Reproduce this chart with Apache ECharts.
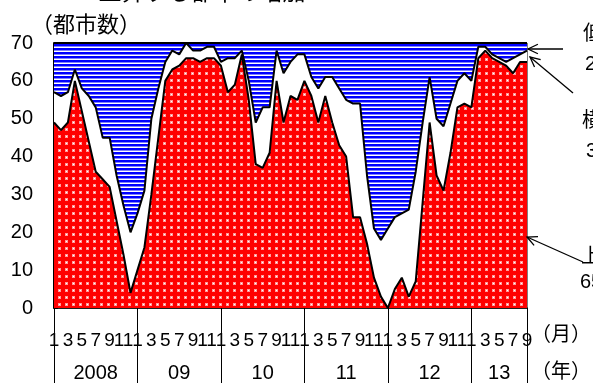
<!DOCTYPE html>
<html><head><meta charset="utf-8">
<script src="https://cdn.jsdelivr.net/npm/echarts@6/dist/echarts.min.js"></script>
<style>html,body{margin:0;padding:0;background:#fff}#c{width:593px;height:383px}</style>
</head><body><div id="c"></div>
<script>
// ---- data ----
const years = ['2008', '09', '10', '11', '12', '13'];
const monthsInYear = [12, 12, 12, 12, 12, 9];
// number of cities (of 70): rising / flat / falling, Jan 2008 .. Sep 2013
const rising = [49,47,49,60,52,44,36,34,32,23,14,4,
                10,16,30,45,60,63,64,66,66,65,66,66,
                64,57,59,67,55,38,37,41,60,49,56,55,
                60,56,49,56,49,43,40,24,24,17,8,3,
                0,5,8,3,7,28,49,35,31,41,53,54,
                53,66,68,66,65,64,62,65,65];
const flat = [8,9,8,3,6,12,17,11,13,12,13,16,
              15,15,20,13,5,5,3,4,2,3,3,3,
              1,9,7,1,5,11,16,12,8,13,9,12,
              7,5,9,5,12,15,15,30,30,18,13,15,
              21,19,17,23,29,21,12,15,17,13,7,8,
              7,3,1,1,1,1,4,2,3];
const falling = [13,14,13,7,12,14,17,25,25,35,43,50,
                 45,39,20,12,5,2,3,0,2,2,1,1,
                 5,4,4,2,10,21,17,17,2,8,5,3,
                 3,9,12,9,9,12,15,16,16,35,49,52,
                 49,46,45,44,34,21,9,20,22,16,10,8,
                 10,1,1,3,4,5,4,3,2];
const yMin = 0, yMax = 70, yStep = 10;

// categories (year-month)
const categories = [];
const yearMid = {}, yearStart = {};
years.forEach((y, k) => {
  yearStart[categories.length] = true;
  yearMid[categories.length + Math.floor(monthsInYear[k] / 2)] = y;
  for (let m = 1; m <= monthsInYear[k]; m++) categories.push(y + '-' + m);
});
const lastIdx = categories.length - 1;

// ---- patterns ----
function dotPattern() {
  const c = document.createElement('canvas'); c.width = 7; c.height = 7;
  const g = c.getContext('2d');
  g.fillStyle = '#ff0000'; g.fillRect(0, 0, 7, 7);
  g.fillStyle = '#ff9a9a'; g.fillRect(2, 2, 3, 3);
  g.fillStyle = '#ffffff'; g.fillRect(3, 3, 1, 1);
  return c;
}
function stripePattern() {
  const c = document.createElement('canvas'); c.width = 4; c.height = 4;
  const g = c.getContext('2d');
  g.fillStyle = '#0000ff'; g.fillRect(0, 0, 4, 2);
  g.fillStyle = '#8080ff'; g.fillRect(0, 2, 4, 1);
  g.fillStyle = '#ffffff'; g.fillRect(0, 3, 4, 1);
  return c;
}

const chart = echarts.init(document.getElementById('c'), null, {renderer: 'canvas'});
const digitFont = 'Liberation Sans';
const cjkFont = '"Noto Sans CJK JP"';

function arrow(x1, y1, x2, y2) {
  const a = Math.atan2(y1 - y2, x1 - x2), L = 11, s = 0.45;
  return [
    {type: 'line', shape: {x1, y1, x2, y2}, style: {stroke: '#000', lineWidth: 1.3}, z: 100},
    {type: 'polyline', shape: {points: [
      [x2 + L * Math.cos(a - s), y2 + L * Math.sin(a - s)], [x2, y2],
      [x2 + L * Math.cos(a + s), y2 + L * Math.sin(a + s)]]},
      style: {stroke: '#000', lineWidth: 1.3, fill: null}, z: 100}
  ];
}
function txt(x, y, text, size, font, align) {
  return {type: 'text', x, y, z: 100, style: {text, fill: '#000', fontSize: size,
    fontFamily: font, align: align || 'left', verticalAlign: 'middle'}};
}

const seriesCommon = {
  type: 'line', stack: 'all', symbol: 'none', showSymbol: false,
  lineStyle: {color: '#000', width: 2}, emphasis: {disabled: true}, animation: false
};

chart.setOption({
  animation: false,
  grid: {left: 54, right: 66, top: 43, bottom: 75, show: true, borderColor: '#000', borderWidth: 1, backgroundColor: 'transparent'},
  xAxis: [{
    type: 'category', data: categories, boundaryGap: false,
    axisLine: {show: true, lineStyle: {color: '#000', width: 1.5}},
    axisTick: {show: false}, splitLine: {show: false},
    axisLabel: {
      interval: (i) => (Number(categories[i].split('-')[1]) % 2) === 1,
      formatter: (v) => v.split('-')[1],
      color: '#000', fontSize: 19, fontFamily: digitFont, margin: 23
    }
  }, {
    type: 'category', data: categories, boundaryGap: false, position: 'bottom', offset: 0,
    axisLine: {show: false},
    axisTick: {show: true, length: 76, interval: (i) => !!yearStart[i] || i === lastIdx,
      lineStyle: {color: '#000', width: 1}},
    axisLabel: {
      interval: (i) => yearMid[i] !== undefined,
      formatter: (v, i) => yearMid[i] || '',
      color: '#000', fontSize: 20, fontFamily: digitFont, margin: 55
    }
  }],
  yAxis: {
    type: 'value', min: yMin, max: yMax, interval: yStep,
    axisLine: {show: true, lineStyle: {color: '#000', width: 2}},
    axisTick: {show: true, inside: true, length: 4, lineStyle: {color: '#000'}},
    splitLine: {show: false},
    axisLabel: {color: '#000', fontSize: 20, fontFamily: digitFont, margin: 21}
  },
  series: [
    Object.assign({}, seriesCommon, {name: '上昇', data: rising, z: 5,
      areaStyle: {color: {image: dotPattern(), repeat: 'repeat'}, opacity: 1}}),
    Object.assign({}, seriesCommon, {name: '横ばい', data: flat, z: 4,
      areaStyle: {color: '#ffffff', opacity: 1}}),
    Object.assign({}, seriesCommon, {name: '低下', data: falling, z: 3,
      areaStyle: {color: {image: stripePattern(), repeat: 'repeat'}, opacity: 1}})
  ],
  graphic: [
    txt(202, -9, '上昇する都市の増加', 23, cjkFont, 'center'),
    txt(86, 24, '（都市数）', 22, cjkFont, 'center'),
    txt(561, 333, '（月）', 20, cjkFont, 'center'),
    txt(561, 370, '（年）', 20, cjkFont, 'center'),
    txt(583, 32, '低下', 20, cjkFont),
    txt(585, 64, '2', 20, digitFont),
    txt(582, 119, '横ばい', 20, cjkFont),
    txt(586, 151, '3', 20, digitFont),
    txt(581, 255, '上昇', 20, cjkFont),
    txt(580, 282, '65', 20, digitFont),
    ...arrow(563, 49, 528, 49),
    ...arrow(573, 93, 530, 57),
    ...arrow(583, 262, 527, 237)
  ]
});
</script></body></html>
